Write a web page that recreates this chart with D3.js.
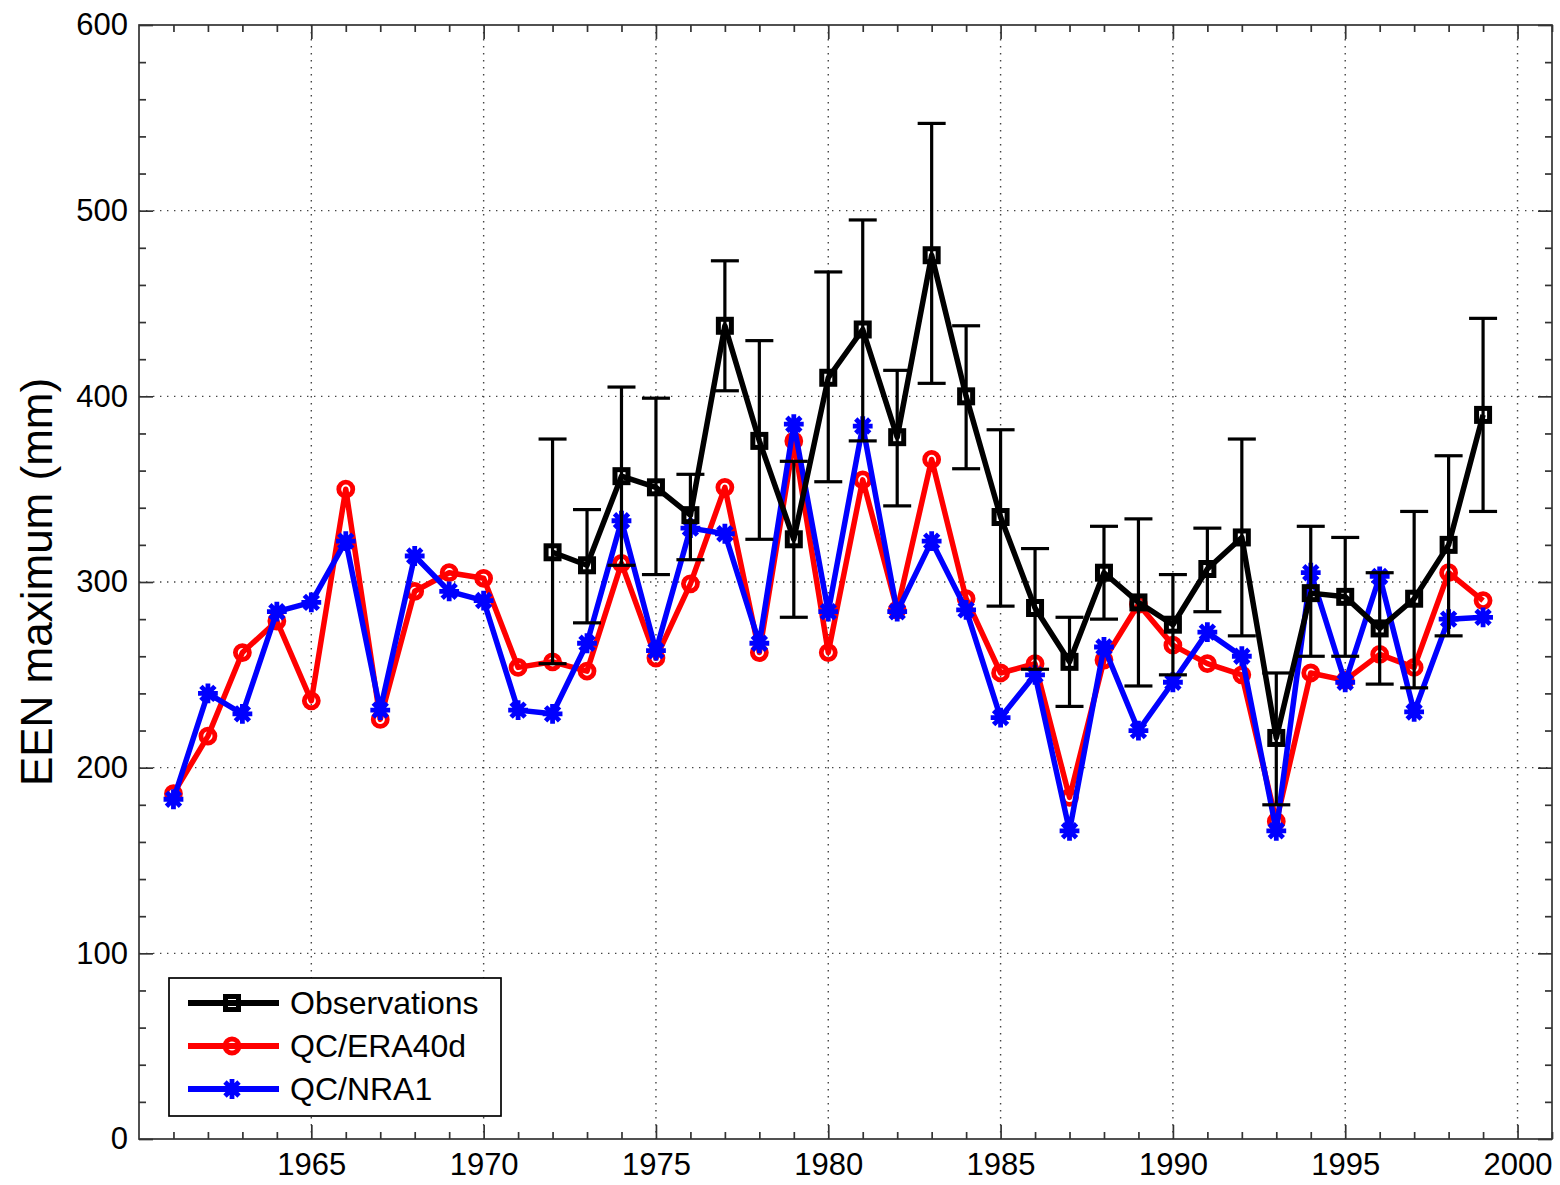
<!DOCTYPE html>
<html>
<head>
<meta charset="utf-8">
<script src="https://cdn.jsdelivr.net/npm/d3@7"></script>
<style>
  body { margin: 0; background: #fff; }
  svg { font-family: "Liberation Sans", Arial, sans-serif; }
</style>
</head>
<body>
<div id="chart"></div>
<script>
// years for the two reanalysis-driven series
const years = [1961, 1962, 1963, 1964, 1965, 1966, 1967, 1968, 1969, 1970,
  1971, 1972, 1973, 1974, 1975, 1976, 1977, 1978, 1979, 1980,
  1981, 1982, 1983, 1984, 1985, 1986, 1987, 1988, 1989, 1990,
  1991, 1992, 1993, 1994, 1995, 1996, 1997, 1998, 1999];
const era40 = [186, 217, 262, 279, 236, 350, 226, 295, 305, 302,
  254, 257, 252, 310, 259, 299, 351, 262, 376, 262,
  355, 285, 366, 291, 251, 256, 184, 258, 288, 266,
  256, 250, 171, 251, 247, 261, 254, 305, 290];
const nra1 = [183, 240, 229, 284, 289, 322, 231, 314, 295, 290,
  231, 229, 267, 333, 263, 329, 326, 267, 385, 284,
  384, 284, 322, 285, 227, 250, 166, 265, 220, 246,
  273, 260, 166, 305, 246, 303, 230, 280, 281];

// observations (with error bars) only start in 1972
const obsYears = [1972, 1973, 1974, 1975, 1976, 1977, 1978, 1979, 1980,
  1981, 1982, 1983, 1984, 1985, 1986, 1987, 1988, 1989, 1990,
  1991, 1992, 1993, 1994, 1995, 1996, 1997, 1998, 1999];
const obs = [316, 309, 357, 351, 336, 438, 376, 323, 410,
  436, 378, 476, 400, 335, 286, 257, 305, 289, 277,
  307, 324, 216, 294, 292, 275, 291, 320, 390];
const obsHigh = [377, 339, 405, 399, 358, 473, 430, 365, 467,
  495, 414, 547, 438, 382, 318, 281, 330, 334, 304,
  329, 377, 251, 330, 324, 305, 338, 368, 442];
const obsLow = [256, 278, 309, 304, 312, 403, 323, 281, 354,
  376, 341, 407, 361, 287, 253, 233, 280, 244, 250,
  284, 271, 180, 260, 260, 245, 243, 271, 338];

const xTicks = [1965, 1970, 1975, 1980, 1985, 1990, 1995, 2000];
const yTicks = [0, 100, 200, 300, 400, 500, 600];

const W = 1560, H = 1185;
const margin = { top: 25, right: 8, bottom: 46, left: 139 };
const width = W - margin.left - margin.right;
const height = H - margin.top - margin.bottom;

const svg = d3.select("#chart").append("svg")
  .attr("width", W).attr("height", H);
const g = svg.append("g")
  .attr("transform", `translate(${margin.left},${margin.top})`);

const x = d3.scaleLinear().domain([1960, 2001]).range([0, width]);
const y = d3.scaleLinear().domain([0, 600]).range([height, 0]);

const axisColor = "#333";
const xMinor = x.ticks(41).filter(v => Number.isInteger(v) && v % 5 !== 0);
const yMinor = d3.range(0, 601, 20).filter(v => v % 100 !== 0);

// grid
g.append("g").selectAll("line").data(xTicks.filter(v => v < 2001)).join("line")
  .attr("x1", d => x(d)).attr("x2", d => x(d))
  .attr("y1", 0).attr("y2", height)
  .attr("stroke", "#444").attr("stroke-width", 1.4)
  .attr("stroke-dasharray", "1.4,5.6");
g.append("g").selectAll("line").data(yTicks.slice(1, -1)).join("line")
  .attr("x1", 0).attr("x2", width)
  .attr("y1", d => y(d)).attr("y2", d => y(d))
  .attr("stroke", "#444").attr("stroke-width", 1.4)
  .attr("stroke-dasharray", "1.4,5.6");

function styleAxis(sel) {
  sel.select(".domain").remove();
  sel.selectAll("line").attr("stroke", axisColor).attr("stroke-width", 1.7);
  sel.selectAll("text").attr("fill", "#000").style("font-size", "31px");
}

// bottom & top axes
g.append("g").attr("transform", `translate(0,${height})`)
  .call(d3.axisBottom(x).tickValues(xTicks).tickSizeInner(-14).tickSizeOuter(0)
    .tickPadding(14).tickFormat(d3.format("d")))
  .call(styleAxis);
g.append("g").attr("transform", `translate(0,${height})`)
  .call(d3.axisBottom(x).tickValues(xMinor).tickSizeInner(-7).tickSizeOuter(0).tickFormat(""))
  .call(styleAxis);
g.append("g")
  .call(d3.axisTop(x).tickValues(xTicks).tickSizeInner(-14).tickSizeOuter(0).tickFormat(""))
  .call(styleAxis);
g.append("g")
  .call(d3.axisTop(x).tickValues(xMinor).tickSizeInner(-7).tickSizeOuter(0).tickFormat(""))
  .call(styleAxis);

// left & right axes
g.append("g")
  .call(d3.axisLeft(y).tickValues(yTicks).tickSizeInner(-14).tickSizeOuter(0).tickPadding(11))
  .call(styleAxis);
g.append("g")
  .call(d3.axisLeft(y).tickValues(yMinor).tickSizeInner(-7).tickSizeOuter(0).tickFormat(""))
  .call(styleAxis);
g.append("g").attr("transform", `translate(${width},0)`)
  .call(d3.axisRight(y).tickValues(yTicks).tickSizeInner(-14).tickSizeOuter(0).tickFormat(""))
  .call(styleAxis);
g.append("g").attr("transform", `translate(${width},0)`)
  .call(d3.axisRight(y).tickValues(yMinor).tickSizeInner(-7).tickSizeOuter(0).tickFormat(""))
  .call(styleAxis);

g.append("rect").attr("width", width).attr("height", height)
  .attr("fill", "none").attr("stroke", axisColor).attr("stroke-width", 1.7);

// y label
svg.append("text")
  .attr("transform", `translate(52,${margin.top + y(300)}) rotate(-90)`)
  .attr("text-anchor", "middle")
  .style("font-size", "44px")
  .text("EEN maximum (mm)");

// marker helpers
function drawMarker(sel, type, color) {
  if (type === "square") {
    sel.append("rect").attr("x", -6.5).attr("y", -6.5).attr("width", 13).attr("height", 13)
      .attr("fill", "none").attr("stroke", color).attr("stroke-width", 5);
  } else if (type === "circle") {
    sel.append("circle").attr("r", 7)
      .attr("fill", "none").attr("stroke", color).attr("stroke-width", 4.8);
  } else {
    const r = 7.5, d = r * Math.SQRT1_2;
    sel.append("path")
      .attr("d", `M${-r},0H${r}M0,${-r}V${r}M${-d},${-d}L${d},${d}M${-d},${d}L${d},${-d}`)
      .attr("stroke", color).attr("stroke-width", 4.8).attr("stroke-linecap", "square");
  }
}

function drawSeries(xs, ys, color, type) {
  const pts = xs.map((v, i) => [v, ys[i]]);
  g.append("path").datum(pts)
    .attr("fill", "none").attr("stroke", color).attr("stroke-width", 5.5)
    .attr("stroke-linejoin", "round")
    .attr("d", d3.line().x(d => x(d[0])).y(d => y(d[1])));
  g.append("g").selectAll("g").data(pts).join("g")
    .attr("transform", d => `translate(${x(d[0])},${y(d[1])})`)
    .each(function () { drawMarker(d3.select(this), type, color); });
}

drawSeries(years, era40, "#ff0000", "circle");
drawSeries(years, nra1, "#0000ff", "star");

// error bars for observations
const eb = g.append("g").attr("stroke", "#000").attr("stroke-width", 3.2);
const cap = 14;
obsYears.forEach((yr, i) => {
  eb.append("line").attr("x1", x(yr)).attr("x2", x(yr))
    .attr("y1", y(obsLow[i])).attr("y2", y(obsHigh[i]));
  eb.append("line").attr("x1", x(yr) - cap).attr("x2", x(yr) + cap)
    .attr("y1", y(obsHigh[i])).attr("y2", y(obsHigh[i]));
  eb.append("line").attr("x1", x(yr) - cap).attr("x2", x(yr) + cap)
    .attr("y1", y(obsLow[i])).attr("y2", y(obsLow[i]));
});
drawSeries(obsYears, obs, "#000", "square");

// legend
const legendItems = [
  { label: "Observations", color: "#000", type: "square" },
  { label: "QC/ERA40d", color: "#ff0000", type: "circle" },
  { label: "QC/NRA1", color: "#0000ff", type: "star" }
];
const lg = svg.append("g").attr("transform", "translate(169,978)");
lg.append("rect").attr("width", 332).attr("height", 138)
  .attr("fill", "#fff").attr("stroke", "#000").attr("stroke-width", 1.7);
legendItems.forEach((it, i) => {
  const row = lg.append("g").attr("transform", `translate(0,${25 + i * 43})`);
  row.append("line").attr("x1", 19).attr("x2", 110)
    .attr("stroke", it.color).attr("stroke-width", 6);
  const m = row.append("g").attr("transform", "translate(63,0)");
  drawMarker(m, it.type, it.color);
  row.append("text").attr("x", 121).attr("y", 11)
    .style("font-size", "32px").text(it.label);
});
</script>
</body>
</html>
